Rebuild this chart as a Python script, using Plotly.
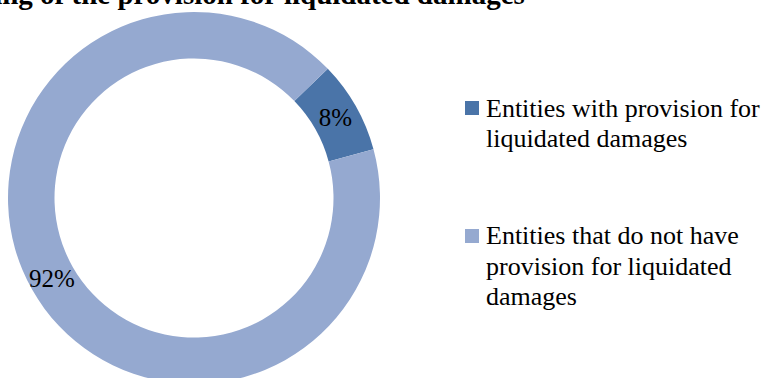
import math
import plotly.graph_objects as go

labels = ["Entities with provision for liquidated damages",
          "Entities that do not have provision for liquidated damages"]
label_lines = [["Entities with provision for", "liquidated damages"],
               ["Entities that do not have", "provision for liquidated", "damages"]]
values = [8, 92]
colors = ["#4A74A8", "#95A9D0"]
title_text = "Mapping of the provision for liquidated damages"

W, H = 768, 390
cx, cy, r = 194, 198, 186
hole = 0.75
rotation = 46
font_fam = "Liberation Serif"

fig = go.Figure()
fig.add_trace(go.Pie(
    labels=labels,
    values=values,
    marker=dict(colors=colors, line=dict(width=0)),
    hole=hole,
    sort=False,
    direction="clockwise",
    rotation=rotation,
    texttemplate=["%{percent:.0%}", ""],
    textposition="inside",
    insidetextorientation="horizontal",
    textfont=dict(family=font_fam, size=25, color="black"),
    domain=dict(x=[(cx - r) / W, (cx + r) / W], y=[1 - (cy + r) / H, 1 - (cy - r) / H]),
    hoverinfo="label+percent",
    showlegend=False,
))

annotations = []
shapes = []

# percentage label of the large slice, placed at its mid-angle (derived from the data)
total = sum(values)
start = values[0] / total
mid = math.radians(rotation + 360 * (start + values[1] / total / 2))
rmid = r * (1 + hole) / 2
annotations.append(dict(
    text=f"{round(100 * values[1] / total)}%",
    xref="paper", yref="paper",
    x=(cx + rmid * math.sin(mid)) / W, y=1 - (cy - rmid * math.cos(mid)) / H,
    xanchor="center", yanchor="middle", showarrow=False,
    font=dict(family=font_fam, size=25, color="black"),
))

# legend (Word-style, 1.15 line spacing)
item_tops = [108, 236]
line_h = 30
for i, lines in enumerate(label_lines):
    y0 = item_tops[i]
    shapes.append(dict(type="rect", xref="paper", yref="paper",
                       x0=465 / W, x1=479 / W, y0=1 - (y0 - 7) / H, y1=1 - (y0 + 7) / H,
                       fillcolor=colors[i], line=dict(width=0)))
    for j, ln in enumerate(lines):
        annotations.append(dict(
            text=ln, xref="paper", yref="paper",
            x=484 / W, y=1 - (y0 + j * line_h) / H,
            xanchor="left", yanchor="middle", showarrow=False,
            font=dict(family=font_fam, size=26, color="black"),
        ))

# clipped title at top
annotations.append(dict(
    text="<b>" + title_text + "</b>",
    xref="paper", yref="paper", x=527 / W, y=1,
    xanchor="right", yanchor="bottom", showarrow=False,
    yshift=-12,
    font=dict(family=font_fam, size=29, color="black"),
))

fig.update_layout(
    width=W, height=H,
    margin=dict(l=0, r=0, t=0, b=0),
    paper_bgcolor="white",
    plot_bgcolor="white",
    showlegend=False,
    annotations=annotations,
    shapes=shapes,
)

fig.write_html("out.html", config={"displayModeBar": False},
               post_script="document.body.style.margin='0';document.body.style.overflow='hidden';document.documentElement.style.overflow='hidden';")
